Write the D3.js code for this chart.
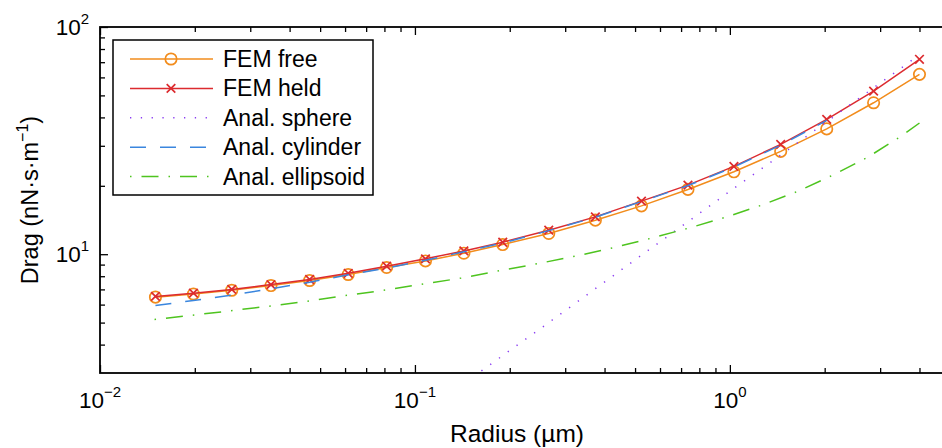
<!DOCTYPE html>
<html>
<head>
<meta charset="utf-8">
<script src="https://cdn.jsdelivr.net/npm/d3@7"></script>
<style>
  html, body { margin: 0; padding: 0; background: #fff; }
  svg { display: block; font-family: "Liberation Sans", Arial, Helvetica, sans-serif; }
</style>
</head>
<body>
<svg id="chart" width="942" height="448"></svg>
<script>
// Particle radius (µm) sampled by the finite-element runs
const radius = [0.015, 0.0198, 0.0262, 0.0349, 0.0463, 0.0614, 0.0813, 0.108, 0.143, 0.19,
                0.266, 0.374, 0.524, 0.736, 1.03, 1.45, 2.03, 2.86, 4.0];
// Drag coefficient (nN·s·m⁻¹)
const femFree = [6.47, 6.68, 6.94, 7.28, 7.66, 8.14, 8.74, 9.34, 10.1, 11.03,
                 12.34, 14.12, 16.32, 19.28, 23.05, 28.35, 35.6, 46.4, 61.9];
const femHeld = [6.52, 6.74, 7.0, 7.35, 7.74, 8.24, 8.86, 9.54, 10.34, 11.29,
                 12.76, 14.6, 17.12, 20.14, 24.34, 30.43, 39.2, 52.2, 72.1];
const cylinderRadius = [0.015, 0.0198, 0.0262, 0.0349, 0.0463, 0.0614, 0.0813, 0.108, 0.143, 0.19,
                        0.266, 0.374, 0.524, 0.736, 1.03, 1.45, 2.03];
const cylinder = [5.94, 6.26, 6.6, 7.05, 7.53, 8.12, 8.68, 9.4, 10.25, 11.2,
                  12.7, 14.55, 17.05, 20.05, 24.2, 30.2, 38.8];
const sphereRadius = [0.143, 0.19, 0.266, 0.374, 0.524, 0.736, 1.03, 1.45, 2.03, 2.86, 4.0];
const sphere = [2.7, 3.58, 5.0, 7.05, 9.9, 13.9, 19.5, 27.3, 38.3, 54, 75.4];
const ellipsoidRadius = [0.0149, 0.0199, 0.0264, 0.0349, 0.0463, 0.0613, 0.0809, 0.1068, 0.1413, 0.187,
                         0.247, 0.326, 0.429, 0.564, 0.739, 0.971, 1.27, 1.656, 2.14, 2.75, 3.49, 4.0];
const ellipsoid = [5.16, 5.40, 5.65, 5.92, 6.23, 6.60, 6.96, 7.40, 7.86, 8.48,
                   9.10, 9.83, 10.7, 11.77, 13.02, 14.55, 16.49, 19.0, 22.4, 26.8, 33.0, 37.8];

const xMajor = [0.01, 0.1, 1];
const xMajorExp = ["\u22122", "\u22121", "0"];
const yMajor = [10, 100];
const yMajorExp = ["1", "2"];
const legendLabels = ["FEM free", "FEM held", "Anal. sphere", "Anal. cylinder", "Anal. ellipsoid"];

const svg = d3.select("#chart");
const plotLeft = 100, plotRight = 950, plotTop = 27, plotBottom = 373;

const x = d3.scaleLog().domain([0.01, 5]).range([plotLeft, plotRight]);
const y = d3.scaleLog().domain([3, 100]).range([plotBottom, plotTop]);

const colors = {
  free: "#f28c1c",
  held: "#dc2b2f",
  sphere: "#8a3cf2",
  cylinder: "#3a86de",
  ellipsoid: "#4ec41f"
};

const styles = [
  { key: "free", color: colors.free, dash: null, marker: "circle" },
  { key: "held", color: colors.held, dash: null, marker: "cross" },
  { key: "sphere", color: colors.sphere, dash: "1.3,9.5", marker: null },
  { key: "cylinder", color: colors.cylinder, dash: "16,14", marker: null },
  { key: "ellipsoid", color: colors.ellipsoid, dash: "1.5,10,17,10", marker: null }
];

svg.append("defs").append("clipPath").attr("id", "plotClip")
  .append("rect").attr("x", plotLeft).attr("y", plotTop)
  .attr("width", plotRight - plotLeft).attr("height", plotBottom - plotTop);

// Ticks (inward, mirrored on all sides)
const xMinor = [];
[0.01, 0.1, 1].forEach(d => { for (let k = 2; k <= 9; k++) { const v = d * k; if (v < 5) xMinor.push(v); } });
const yMinor = [];
[1, 10].forEach(d => { for (let k = 2; k <= 9; k++) { const v = d * k; if (v > 3 && v < 100) yMinor.push(v); } });

const axisG = svg.append("g");
const xAxisB = d3.axisBottom(x).tickValues(xMinor).tickSize(-5).tickFormat("");
const xAxisBM = d3.axisBottom(x).tickValues(xMajor).tickSize(-8).tickFormat("");
const xAxisT = d3.axisTop(x).tickValues(xMinor).tickSize(-5).tickFormat("");
const xAxisTM = d3.axisTop(x).tickValues(xMajor).tickSize(-8).tickFormat("");
const yAxisL = d3.axisLeft(y).tickValues(yMinor).tickSize(-5).tickFormat("");
const yAxisLM = d3.axisLeft(y).tickValues(yMajor).tickSize(-8).tickFormat("");

[[xAxisB, `translate(0,${plotBottom})`], [xAxisBM, `translate(0,${plotBottom})`],
 [xAxisT, `translate(0,${plotTop})`], [xAxisTM, `translate(0,${plotTop})`],
 [yAxisL, `translate(${plotLeft},0)`], [yAxisLM, `translate(${plotLeft},0)`]].forEach(([ax, tr]) => {
  const g = axisG.append("g").attr("transform", tr).call(ax);
  g.select(".domain").remove();
  g.selectAll(".tick line").attr("stroke", "#000").attr("stroke-width", 1.3);
});

// Frame
svg.append("rect").attr("x", plotLeft).attr("y", plotTop)
  .attr("width", plotRight - plotLeft).attr("height", plotBottom - plotTop)
  .attr("fill", "none").attr("stroke", "#000").attr("stroke-width", 1.8);

// Tick labels with exponents
xMajor.forEach((v, i) => {
  const t = svg.append("text").attr("x", x(v)).attr("y", 408)
    .attr("text-anchor", "middle").attr("font-size", 22.5).attr("fill", "#000");
  t.append("tspan").text("10");
  t.append("tspan").attr("dy", -11).attr("font-size", 15).text(xMajorExp[i]);
});
yMajor.forEach((v, i) => {
  const t = svg.append("text").attr("x", 89).attr("y", y(v) + 8)
    .attr("text-anchor", "end").attr("font-size", 22.5).attr("fill", "#000");
  t.append("tspan").text("10");
  t.append("tspan").attr("dy", -11).attr("font-size", 15).text(yMajorExp[i]);
});

// Axis titles
svg.append("text").attr("x", 517).attr("y", 442).attr("text-anchor", "middle")
  .attr("font-size", 24.5).attr("fill", "#000").text("Radius (\u00b5m)");
const yt = svg.append("text").attr("transform", "translate(38,200) rotate(-90)")
  .attr("text-anchor", "middle").attr("font-size", 23.5).attr("fill", "#000");
yt.append("tspan").text("Drag (nN\u00b7s\u00b7m");
yt.append("tspan").attr("dy", -10).attr("font-size", 16).text("\u22121");
yt.append("tspan").attr("dy", 10).text(")");

// Series
const plot = svg.append("g").attr("clip-path", "url(#plotClip)");
const line = d3.line().x(d => x(d[0])).y(d => y(d[1]));
const seriesData = {
  free: radius.map((r, i) => [r, femFree[i]]),
  held: radius.map((r, i) => [r, femHeld[i]]),
  sphere: sphereRadius.map((r, i) => [r, sphere[i]]),
  cylinder: cylinderRadius.map((r, i) => [r, cylinder[i]]),
  ellipsoid: ellipsoidRadius.map((r, i) => [r, ellipsoid[i]])
};

function drawMarker(g, type, cx, cy, color) {
  if (type === "circle") {
    g.append("circle").attr("cx", cx).attr("cy", cy).attr("r", 5.7)
      .attr("fill", "none").attr("stroke", color).attr("stroke-width", 1.7);
  } else if (type === "cross") {
    const s = 4.3;
    g.append("path").attr("d", `M${cx - s},${cy - s}L${cx + s},${cy + s}M${cx - s},${cy + s}L${cx + s},${cy - s}`)
      .attr("stroke", color).attr("stroke-width", 1.7).attr("fill", "none");
  }
}

styles.forEach(s => {
  const data = seriesData[s.key];
  const p = plot.append("path").datum(data).attr("d", line)
    .attr("fill", "none").attr("stroke", s.color).attr("stroke-width", 1.5);
  if (s.dash) p.attr("stroke-dasharray", s.dash);
  if (s.marker) {
    const mg = plot.append("g");
    data.forEach(d => drawMarker(mg, s.marker, x(d[0]), y(d[1]), s.color));
  }
});

// Legend
const lg = svg.append("g");
lg.append("rect").attr("x", 113).attr("y", 40).attr("width", 260).attr("height", 155)
  .attr("fill", "#fff").attr("stroke", "#000").attr("stroke-width", 1.5);
styles.forEach((s, i) => {
  const ly = 59 + i * 29.4;
  const l = lg.append("line").attr("x1", 130).attr("x2", 213).attr("y1", ly).attr("y2", ly)
    .attr("stroke", s.color).attr("stroke-width", 1.5);
  if (s.dash) l.attr("stroke-dasharray", s.dash);
  if (s.marker) drawMarker(lg, s.marker, 171, ly, s.color);
  lg.append("text").attr("x", 223).attr("y", ly + 8).attr("font-size", 23)
    .attr("fill", "#000").text(legendLabels[i]);
});
</script>
</body>
</html>
